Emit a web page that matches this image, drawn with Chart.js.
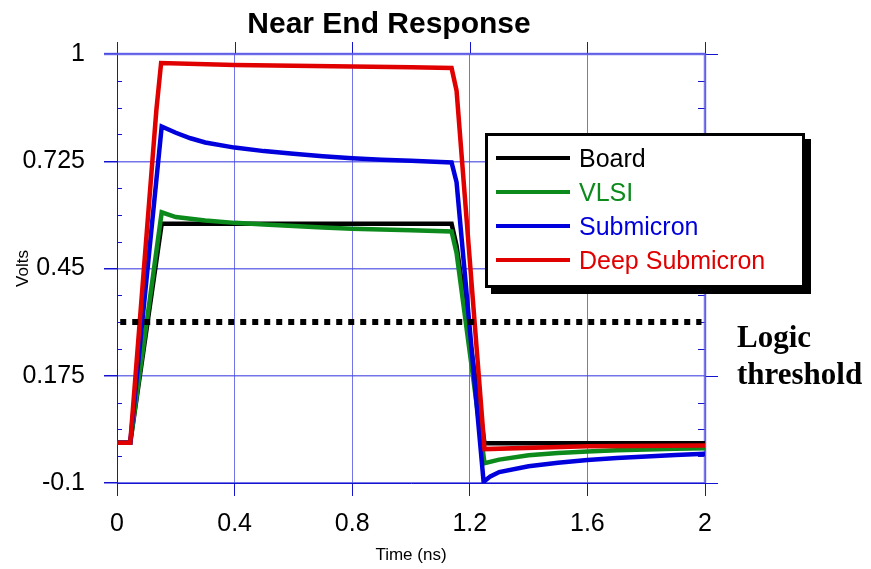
<!DOCTYPE html>
<html>
<head>
<meta charset="utf-8">
<script src="https://cdn.jsdelivr.net/npm/chart.js@4/dist/chart.umd.min.js"></script>
<style>
    body { margin: 0; background: #fff; }
    .wrap { position: relative; width: 871px; height: 569px; }
    .legend {
        position: absolute; left: 485px; top: 133px; width: 320px; height: 155px;
        box-sizing: border-box; border: 3px solid #000; background: #fff;
        box-shadow: 6px 6px 0 #000;
        font-family: 'Liberation Sans', Arial, sans-serif; font-size: 25px;
    }
    .legend .row { position: absolute; left: 0; height: 34px; line-height: 34px; width: 100%; }
    .legend .swatch { position: absolute; left: 8px; top: 15px; width: 74px; height: 4px; }
    .legend .label { position: absolute; left: 91px; top: 0; white-space: nowrap; }
</style>
</head>
<body>
<div class="wrap">
    <canvas id="chart" width="871" height="569"></canvas>
    <div class="legend"></div>
</div>
<script>
// values (time in ns, level in volts)
const boardT = [0, 0.045, 0.152, 1.138, 1.155, 1.25, 2]
const boardV = [0.003, 0.003, 0.565, 0.565, 0.508, 0.002, 0.002]

const vlsiT = [0, 0.045, 0.152, 0.2, 0.3, 0.4, 0.5, 0.6, 0.7, 0.8, 0.9, 1.0, 1.138, 1.155, 1.25, 1.3, 1.4, 1.5, 1.6, 1.7, 1.8, 1.9, 2]
const vlsiV = [0.003, 0.003, 0.594, 0.582, 0.573, 0.567, 0.563, 0.559, 0.555, 0.552, 0.55, 0.548, 0.545, 0.49, -0.049, -0.04, -0.029, -0.023, -0.019, -0.016, -0.014, -0.012, -0.011]

const subT = [0, 0.045, 0.152, 0.2, 0.25, 0.3, 0.4, 0.5, 0.6, 0.7, 0.8, 0.9, 1.0, 1.1, 1.138, 1.155, 1.247, 1.27, 1.3, 1.4, 1.5, 1.6, 1.7, 1.8, 1.9, 2]
const subV = [0.003, 0.003, 0.814, 0.798, 0.784, 0.773, 0.76, 0.751, 0.744, 0.738, 0.733, 0.729, 0.726, 0.723, 0.722, 0.671, -0.097, -0.083, -0.072, -0.057, -0.048, -0.041, -0.036, -0.032, -0.028, -0.025]

const deepT = [0, 0.045, 0.134, 0.15, 0.4, 0.8, 1.0, 1.138, 1.155, 1.25, 1.6, 2]
const deepV = [0.003, 0.003, 0.857, 0.977, 0.972, 0.968, 0.966, 0.964, 0.906, -0.013, -0.006, -0.004]

const thresholdT = [0.011, 1.988]
const thresholdV = [0.313, 0.313]

const xTicks = [0, 0.4, 0.8, 1.2, 1.6, 2]
const xTickLabels = ['0', '0.4', '0.8', '1.2', '1.6', '2']
const yTicks = [-0.1, 0.175, 0.45, 0.725, 1]
const yTickLabels = ['-0.1', '0.175', '0.45', '0.725', '1']

const sans = "'Liberation Sans', Arial, sans-serif"
const serif = "'Liberation Serif', 'Times New Roman', serif"
const gridBlue = 'rgba(70, 70, 225, 0.75)'
const tickBlue = '#1414d0'

const toPoints = (t, v) => t.map((x, i) => ({x: x, y: v[i]}))

const series = [
    {label: 'Board', t: boardT, v: boardV, color: '#000000', order: 4},
    {label: 'VLSI', t: vlsiT, v: vlsiV, color: '#0c8a1c', order: 3},
    {label: 'Submicron', t: subT, v: subV, color: '#0000dc', order: 2},
    {label: 'Deep Submicron', t: deepT, v: deepV, color: '#e00000', order: 1}
]

const datasets = series.map(s => ({
    label: s.label,
    data: toPoints(s.t, s.v),
    borderColor: s.color,
    borderWidth: 4.5,
    order: s.order
}))
datasets.push({
    label: 'Logic threshold',
    data: toPoints(thresholdT, thresholdV),
    borderColor: '#000',
    borderWidth: 6,
    borderDash: [6, 6],
    order: 0
})

// extra frame bits: right/top border, tick stubs, minor ticks, text
const px = v => Math.round(v) + 0.5
const extras = {
    id: 'extras',
    beforeDatasetsDraw(chart) {
        const {ctx, chartArea: a, scales: {x, y}} = chart
        ctx.save()
        ctx.strokeStyle = tickBlue
        ctx.lineWidth = 1
        ctx.beginPath()
        xTicks.forEach(t => {
            const xx = px(x.getPixelForValue(t))
            ctx.moveTo(xx, a.top - 12)
            ctx.lineTo(xx, a.top)
        })
        yTicks.forEach(v => {
            const yy = px(y.getPixelForValue(v))
            ctx.moveTo(a.right, yy)
            ctx.lineTo(a.right + 13, yy)
        })
        for (let i = 0; i < yTicks.length - 1; i++) {
            const step = (yTicks[i + 1] - yTicks[i]) / 4
            for (let k = 1; k < 4; k++) {
                const yy = px(y.getPixelForValue(yTicks[i] + step * k))
                ctx.moveTo(a.left, yy)
                ctx.lineTo(a.left + 5, yy)
                ctx.moveTo(a.right - 7, yy)
                ctx.lineTo(a.right, yy)
            }
        }
        ctx.stroke()
        ctx.strokeStyle = 'rgba(90, 90, 230, 0.8)'
        ctx.lineWidth = 2.5
        ctx.beginPath()
        ctx.moveTo(a.right, a.top - 1)
        ctx.lineTo(a.right, a.bottom)
        ctx.moveTo(a.left - 13, a.top)
        ctx.lineTo(a.right, a.top)
        ctx.stroke()
        ctx.restore()
    },
    afterDraw(chart) {
        const {ctx} = chart
        ctx.save()
        ctx.fillStyle = '#000'
        ctx.textBaseline = 'alphabetic'
        ctx.textAlign = 'center'
        ctx.font = 'bold 30px ' + sans
        ctx.fillText('Near End Response', 389, 33)
        ctx.textAlign = 'left'
        ctx.font = 'bold 31px ' + serif
        ctx.fillText('Logic', 737, 347)
        ctx.fillText('threshold', 737, 384)
        ctx.restore()
    }
}

const config = {
    type: 'line',
    data: {datasets: datasets},
    options: {
        responsive: false,
        animation: false,
        devicePixelRatio: 1,
        layout: {padding: {top: 54, left: 10, right: 166, bottom: 3}},
        elements: {
            point: {radius: 0},
            line: {tension: 0, borderJoinStyle: 'miter', borderCapStyle: 'butt'}
        },
        plugins: {
            legend: {display: false},
            title: {display: false},
            tooltip: {enabled: false}
        },
        scales: {
            x: {
                type: 'linear',
                min: 0,
                max: 2,
                afterBuildTicks: s => { s.ticks = xTicks.map(v => ({value: v})) },
                afterFit: s => { s.height = 83; s.paddingLeft = 0; s.paddingRight = 0 },
                ticks: {
                    callback: (v, i) => xTickLabels[i],
                    color: '#000',
                    padding: 13,
                    maxRotation: 0,
                    font: {family: sans, size: 25}
                },
                grid: {color: gridBlue, lineWidth: 1, tickLength: 13, tickColor: tickBlue},
                border: {color: tickBlue, width: 1},
                title: {
                    display: true,
                    text: 'Time (ns)',
                    color: '#000',
                    padding: {top: 0, bottom: 0},
                    font: {family: sans, size: 17}
                }
            },
            y: {
                min: -0.1,
                max: 1,
                afterBuildTicks: s => { s.ticks = yTicks.map(v => ({value: v})) },
                afterFit: s => { s.width = 107; s.paddingTop = 0; s.paddingBottom = 0 },
                ticks: {
                    callback: (v, i) => yTickLabels[i],
                    color: '#000',
                    padding: 19,
                    font: {family: sans, size: 25}
                },
                grid: {color: gridBlue, lineWidth: 1.5, tickLength: 13, tickColor: tickBlue},
                border: {color: tickBlue, width: 1},
                title: {
                    display: true,
                    text: 'Volts',
                    color: '#000',
                    padding: {top: 3, bottom: 0},
                    font: {family: sans, size: 17}
                }
            }
        }
    },
    plugins: [extras]
}

const myChart = new Chart(document.getElementById('chart'), config)

// legend box
const rowCenters = [21.7, 55.7, 89.7, 124]
let legendRows = ''
series.forEach((s, i) => {
    legendRows += `
        <div class="row" style="top:${rowCenters[i] - 17}px">
            <div class="swatch" style="background:${s.color}"></div>
            <div class="label" style="color:${s.color}">${s.label}</div>
        </div>
    `
})
document.querySelector('.legend').innerHTML = legendRows
</script>
</body>
</html>
